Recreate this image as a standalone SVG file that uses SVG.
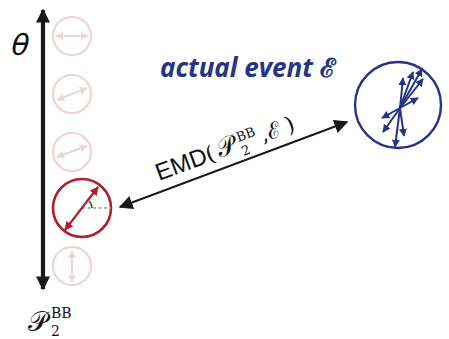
<svg xmlns="http://www.w3.org/2000/svg" width="449" height="339" viewBox="0 0 449 339">
<style>
.pink{fill:none;stroke:#f2d2d3;stroke-width:2.2}
.pinka{stroke:#f2d2d3;stroke-width:2;fill:none}
.red{fill:none;stroke:#b01f2e;stroke-width:2.6}
.reda{stroke:#b01f2e;stroke-width:2.2;fill:none}
.blue{fill:none;stroke:#253489;stroke-width:2.4}
.bluea{stroke:#253489;stroke-width:2;fill:none}
.math{font-family:"DejaVu Serif","Liberation Serif",serif}
</style>
<defs>
<marker id="ak" viewBox="0 0 10 10" refX="9" refY="5" markerWidth="14" markerHeight="14" markerUnits="userSpaceOnUse" orient="auto-start-reverse"><path d="M0,0 L10,5 L0,10 z" fill="#1a1a1a"/></marker>
<marker id="ap" viewBox="0 0 10 10" refX="9" refY="5" markerWidth="8" markerHeight="8" markerUnits="userSpaceOnUse" orient="auto-start-reverse"><path d="M0,0 L10,5 L0,10 z" fill="#f2d2d3"/></marker>
<marker id="ar" viewBox="0 0 10 10" refX="9" refY="5" markerWidth="9" markerHeight="9" markerUnits="userSpaceOnUse" orient="auto-start-reverse"><path d="M0,0 L10,5 L0,10 z" fill="#b01f2e"/></marker>
<marker id="ab" viewBox="0 0 10 10" refX="9" refY="5" markerWidth="8" markerHeight="8" markerUnits="userSpaceOnUse" orient="auto-start-reverse"><path d="M0,0 L10,5 L0,10 z" fill="#253489"/></marker>
</defs>

<g id="axis">
<line x1="43" y1="10" x2="43" y2="289" stroke="#1a1a1a" stroke-width="4.2" marker-start="url(#ak)" marker-end="url(#ak)"/>
<text transform="translate(9,55) skewX(-14)" x="0" y="0" font-family="DejaVu Sans, sans-serif" font-size="29" fill="#111">θ</text>
</g>

<g id="p1"><circle class="pink" cx="72" cy="36" r="19"/><line class="pinka" x1="56" y1="36" x2="88" y2="36" marker-start="url(#ap)" marker-end="url(#ap)"/></g>
<g id="p2"><circle class="pink" cx="72" cy="94" r="19"/><line class="pinka" x1="57" y1="100" x2="87" y2="88" marker-start="url(#ap)" marker-end="url(#ap)"/></g>
<g id="p3"><circle class="pink" cx="72" cy="152" r="19"/><line class="pinka" x1="57" y1="157" x2="87" y2="146" marker-start="url(#ap)" marker-end="url(#ap)"/></g>
<g id="p4"><circle class="pink" cx="72" cy="266" r="19"/><line class="pinka" x1="72" y1="251" x2="72" y2="282" marker-start="url(#ap)" marker-end="url(#ap)"/></g>

<g id="red">
<circle class="red" cx="82" cy="208" r="29"/>
<line x1="82" y1="208" x2="111" y2="208" stroke="#9a9a9a" stroke-width="1.4" stroke-dasharray="3,2.5"/>
<path d="M92,208 A10,10 0 0 0 89,201" fill="none" stroke="#555" stroke-width="1.6"/>
<line class="reda" x1="65" y1="230" x2="98" y2="187" marker-start="url(#ar)" marker-end="url(#ar)"/>
</g>

<g id="event">
<circle class="blue" cx="398" cy="105" r="43"/>
<g class="bluea">
<line x1="400" y1="108" x2="413" y2="72" marker-end="url(#ab)"/>
<line x1="400" y1="108" x2="422" y2="69" marker-end="url(#ab)"/>
<line x1="400" y1="108" x2="423" y2="79" marker-end="url(#ab)"/>
<line x1="400" y1="108" x2="403" y2="78" marker-end="url(#ab)"/>
<line x1="400" y1="108" x2="418" y2="98" marker-end="url(#ab)"/>
<line x1="400" y1="108" x2="382" y2="118" marker-end="url(#ab)"/>
<line x1="400" y1="108" x2="383" y2="132" marker-end="url(#ab)"/>
<line x1="400" y1="108" x2="395" y2="147" marker-end="url(#ab)"/>
<line x1="400" y1="108" x2="404" y2="136" marker-end="url(#ab)"/>
</g>
<text x="160" y="77" font-family="Open Sans, sans-serif" font-weight="bold" font-style="italic" font-size="26" fill="#253489">actual event <tspan font-family="DejaVu Serif, serif" font-style="normal" font-size="26">ℰ</tspan></text>
</g>

<g id="connectors">
<line x1="120" y1="207" x2="347" y2="122" stroke="#1a1a1a" stroke-width="2" marker-start="url(#ak)" marker-end="url(#ak)"/>
</g>

<g id="emd-label" transform="translate(159,181) rotate(-20.4)">
<text x="0" y="0" font-family="Liberation Sans, Arial, sans-serif" font-size="24" fill="#111">EMD</text>
<text class="math" x="53" y="0" font-size="22" fill="#111">(</text>
<text class="math" x="65" y="0" font-size="26" fill="#111">𝒫</text>
<text class="math" x="88" y="-9" font-size="13" fill="#111">BB</text>
<text class="math" x="88" y="6" font-size="13" fill="#111">2</text>
<text class="math" x="111" y="0" font-size="22" fill="#111">,</text>
<text class="math" x="118" y="0" font-size="22" fill="#111">ℰ</text>
<text class="math" x="138" y="0" font-size="22" fill="#111">)</text>
</g>

<g id="p-label">
<text class="math" x="28" y="331" font-size="27" fill="#111">𝒫</text>
<text class="math" x="51" y="318" font-size="14" fill="#111">BB</text>
<text class="math" x="51" y="336" font-size="14" fill="#111">2</text>
</g>
</svg>
